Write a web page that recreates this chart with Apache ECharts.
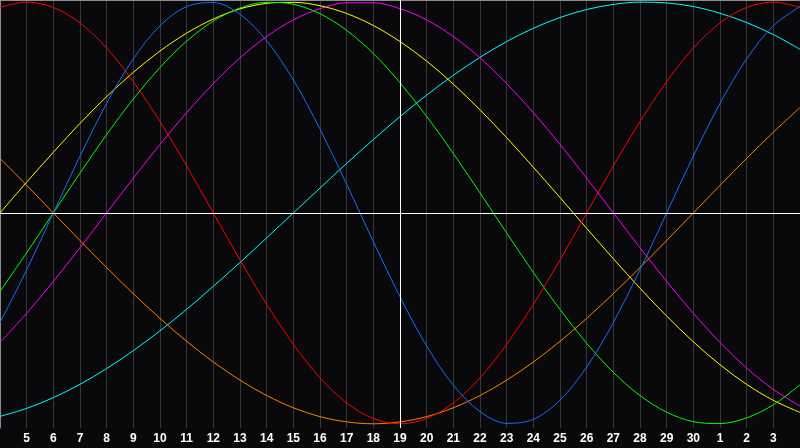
<!DOCTYPE html>
<html>
<head>
<meta charset="utf-8">
<style>
  html, body { margin: 0; padding: 0; background: #09080b; }
  #chart { width: 800px; height: 448px; }
</style>
<script src="https://cdn.jsdelivr.net/npm/echarts@6/dist/echarts.min.js"></script>
</head>
<body>
<div id="chart"></div>
<script>
// Day labels (x axis): day 4 of this month to day 4 of next month
const dayLabels = ['4','5','6','7','8','9','10','11','12','13','14','15','16','17','18','19','20','21','22','23','24','25','26','27','28','29','30','1','2','3','4'];
const todayLabel = '19';

// Cycle values, one per day
const physical = [-0.520,-0.270,0,0.270,0.520,0.731,0.888,0.979,0.998,0.942,0.817,0.631,0.398,0.136,-0.136,-0.398,-0.631,-0.817,-0.942,-0.998,-0.979,-0.888,-0.731,-0.520,-0.270,0,0.270,0.520,0.731,0.888,0.979];
const emotional = [0.975,1.000,0.975,0.901,0.782,0.623,0.434,0.223,0,-0.223,-0.434,-0.623,-0.782,-0.901,-0.975,-1.000,-0.975,-0.901,-0.782,-0.623,-0.434,-0.223,0,0.223,0.434,0.623,0.782,0.901,0.975,1.000,0.975];
const intellectual = [-0.372,-0.189,0,0.189,0.372,0.541,0.690,0.815,0.910,0.972,0.999,0.990,0.945,0.866,0.756,0.618,0.458,0.282,0.095,-0.095,-0.282,-0.458,-0.618,-0.756,-0.866,-0.945,-0.990,-0.999,-0.972,-0.910,-0.815];
const intuitive = [-0.614,-0.476,-0.325,-0.165,0,0.165,0.325,0.476,0.614,0.736,0.837,0.916,0.969,0.997,0.997,0.969,0.916,0.837,0.736,0.614,0.476,0.325,0.165,0,-0.165,-0.325,-0.476,-0.614,-0.736,-0.837,-0.916];
const aesthetic = [0,0.146,0.288,0.425,0.552,0.667,0.768,0.853,0.920,0.968,0.994,0.999,0.983,0.946,0.889,0.813,0.720,0.611,0.489,0.357,0.217,0.073,-0.073,-0.217,-0.357,-0.489,-0.611,-0.720,-0.813,-0.889,-0.946];
const awareness = [0.259,0.131,0,-0.131,-0.259,-0.383,-0.500,-0.609,-0.707,-0.793,-0.866,-0.924,-0.966,-0.991,-1.000,-0.991,-0.966,-0.924,-0.866,-0.793,-0.707,-0.609,-0.500,-0.383,-0.259,-0.131,0,0.131,0.259,0.383,0.500];
const spiritual = [-0.965,-0.927,-0.876,-0.813,-0.738,-0.653,-0.559,-0.457,-0.348,-0.235,-0.118,0,0.118,0.235,0.348,0.457,0.559,0.653,0.738,0.813,0.876,0.927,0.965,0.989,1.000,0.996,0.979,0.947,0.903,0.846,0.776];

const cycles = [
  { name: 'Spiritual', data: spiritual, color: '#00ffff' },
  { name: 'Awareness', data: awareness, color: '#ff8000' },
  { name: 'Intuitive', data: intuitive, color: '#ff00ff' },
  { name: 'Aesthetic', data: aesthetic, color: '#ffff00' },
  { name: 'Intellectual', data: intellectual, color: '#00ff00' },
  { name: 'Emotional', data: emotional, color: '#ff0000' },
  { name: 'Physical', data: physical, color: '#1a6cff' }
];

const chart = echarts.init(document.getElementById('chart'));

const series = cycles.map(c => ({
  name: c.name,
  type: 'line',
  data: c.data,
  smooth: 0.33,
  showSymbol: false,
  silent: true,
  lineStyle: { color: c.color, width: 1 },
  z: 3
}));

series.push({
  name: 'guides',
  type: 'line',
  data: dayLabels.map(() => null),
  showSymbol: false,
  silent: true,
  z: 10,
  markLine: {
    silent: true,
    symbol: ['none', 'none'],
    label: { show: false },
    lineStyle: { color: '#ffffff', width: 1, type: 'solid' },
    emphasis: { disabled: true },
    data: [
      { yAxis: 0 },
      { xAxis: todayLabel }
    ]
  }
});

const lastIdx = dayLabels.length - 1;

chart.setOption({
  backgroundColor: '#09080b',
  animation: false,
  grid: { left: 0, right: 0, top: 0, bottom: 20, containLabel: false, outerBoundsMode: 'none' },
  xAxis: [
    {
      type: 'category',
      data: dayLabels,
      boundaryGap: false,
      axisLine: { show: true, lineStyle: { color: '#c8c8c8', width: 1 } },
      axisTick: { show: false },
      axisLabel: {
        interval: 0,
        color: '#ffffff',
        fontFamily: 'Liberation Sans',
        fontWeight: 'bold',
        fontSize: 12,
        margin: 5,
        formatter: (v, idx) => (idx === 0 || idx === lastIdx) ? '' : v
      },
      splitLine: { show: true, interval: 0, lineStyle: { color: '#383838', width: 1 } }
    },
    {
      type: 'category',
      position: 'top',
      data: dayLabels,
      boundaryGap: false,
      axisLine: { show: true, lineStyle: { color: '#8c8c8c', width: 1 } },
      axisTick: { show: false },
      axisLabel: { show: false },
      splitLine: { show: false }
    }
  ],
  yAxis: {
    type: 'value',
    min: -1.02,
    max: 1.01,
    axisLine: { show: true, lineStyle: { color: '#8c8c8c', width: 1 } },
    axisTick: { show: false },
    axisLabel: { show: false },
    splitLine: { show: false }
  },
  series: series
});
</script>
</body>
</html>
